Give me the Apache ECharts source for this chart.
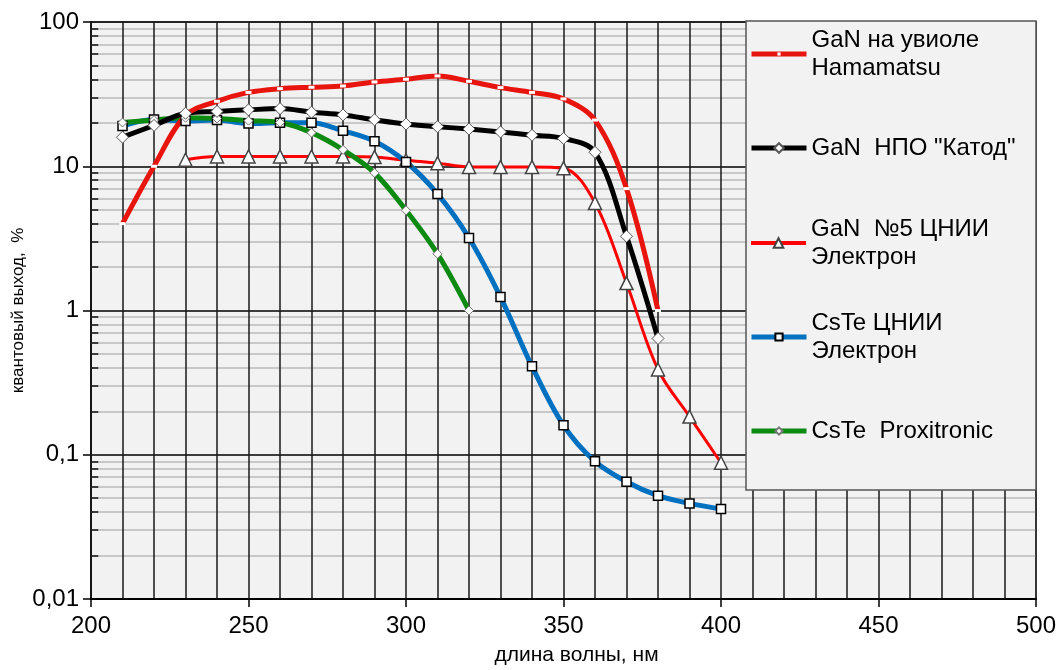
<!DOCTYPE html>
<html>
<head>
<meta charset="utf-8">
<script src="https://cdn.jsdelivr.net/npm/echarts@6/dist/echarts.min.js"></script>
<style>
  html, body { margin: 0; padding: 0; background: #fff; }
  #chart { width: 1061px; height: 670px; }
</style>
</head>
<body>
<div id="chart"></div>
<script>
// wavelength, nm
const wavelengths = [210, 220, 230, 240, 250, 260, 270, 280, 290, 300,
    310, 320, 330, 340, 350, 360, 370, 380, 390, 400];

// quantum yield, %
const ganHamamatsu = [4.0, 10.0, 22.5, 28.2, 32.5, 34.5, 35.3, 36.0, 38.4, 40.1,
    42.3, 38.8, 35.1, 32.5, 29.3, 20.9, 7.0, 1.0];                 // 210..380
const ganKatod = [15.9, 19.2, 23.3, 24.0, 24.6, 25.1, 23.7, 22.7, 21.0, 19.6,
    18.8, 18.1, 17.3, 16.4, 15.6, 12.5, 3.27, 0.64];               // 210..380
const ganNo5 = [11.1, 11.7, 11.7, 11.7, 11.7, 11.7, 11.6, 11.0, 10.5, 9.9,
    9.9, 9.9, 9.7, 5.57, 1.55, 0.39, 0.184, 0.088];                // 230..400
const csteCnii = [19.0, 21.1, 20.6, 20.9, 19.8, 20.0, 20.0, 17.6, 14.9, 10.7,
    6.43, 3.18, 1.24, 0.41, 0.160, 0.090, 0.065, 0.052, 0.046, 0.042]; // 210..400
const csteProxitronic = [20.1, 20.9, 21.7, 21.4, 20.7, 20.1, 17.1, 13.0, 9.0, 4.95,
    2.47, 1.0];                                                    // 210..320

const seriesNames = [
    'GaN на увиоле\nHamamatsu',
    'GaN  НПО "Катод"',
    'GaN  №5 ЦНИИ\nЭлектрон',
    'CsTe ЦНИИ\nЭлектрон',
    'CsTe  Proxitronic'
];

const yTicks = [0.01, 0.1, 1, 10, 100];
const yTickLabels = ['0,01', '0,1', '1', '10', '100'];
const decades = [0.01, 0.1, 1, 10];
const minorSteps = [2, 3, 4, 5, 6, 7, 8, 9];

const FONT = 'Liberation Sans, Arial, sans-serif';

function pairs(startNm, values) {
    const from = wavelengths.indexOf(startNm);
    return values.map((v, i) => [wavelengths[from + i], v]);
}

function yLabel(value) {
    let best = 0;
    yTicks.forEach((t, i) => {
        if (Math.abs(Math.log10(t) - Math.log10(value)) <
            Math.abs(Math.log10(yTicks[best]) - Math.log10(value)))
            best = i;
    });
    return yTickLabels[best];
}

// light grey log minor grid + short inner ticks on the y axis
let minorLines = [];
decades.forEach(d => {
    minorSteps.forEach(s => {
        minorLines.push({ yAxis: d * s });
        minorLines.push([
            { coord: [200, d * s], lineStyle: { color: '#111', width: 1.5 } },
            { coord: [202.3, d * s] }
        ]);
    });
});

const chart = echarts.init(document.getElementById('chart'));

function legendAt(name, iconY, twoLines, itemHeight, lineWidth) {
    return {
        data: [name],
        left: 749,
        top: iconY - (twoLines ? 42 : 14),
        orient: 'vertical',
        padding: 0,
        itemWidth: 55,
        itemHeight: itemHeight,
        itemGap: 0,
        selectedMode: false,
        z: 20,
        lineStyle: { width: lineWidth },
        textStyle: {
            fontFamily: FONT,
            fontSize: 24,
            lineHeight: 28,
            color: '#000',
            padding: twoLines ? [28, 0, 0, 0] : 0
        }
    };
}

chart.setOption({
    animation: false,
    backgroundColor: '#fff',
    textStyle: { fontFamily: FONT },
    grid: {
        left: 91, right: 25, top: 22, bottom: 71,
        outerBoundsMode: 'none',
        containLabel: false,
        show: true,
        backgroundColor: '#f2f2f2',
        borderColor: '#8c8c8c',
        borderWidth: 2
    },
    xAxis: {
        type: 'value',
        min: 200, max: 500, interval: 50,
        z: 1.5,
        name: 'длина волны, нм',
        nameLocation: 'middle',
        nameGap: 46,
        nameMoveOverlap: false,
        nameTextStyle: { fontSize: 21, color: '#000', padding: [0, 0, 0, 26] },
        axisLine: { lineStyle: { color: '#000', width: 2 } },
        axisTick: { show: true, length: 8, lineStyle: { color: '#000', width: 1.5 } },
        axisLabel: { fontSize: 24, color: '#000', margin: 15 },
        splitLine: { show: true, lineStyle: { color: '#1a1a1a', width: 1.5 } },
        minorTick: { show: false, splitNumber: 5 },
        minorSplitLine: { show: true, lineStyle: { color: '#1a1a1a', width: 1.5 } }
    },
    yAxis: {
        type: 'log',
        logBase: 10,
        min: 0.01, max: 100,
        name: 'квантовый выход,  %',
        nameLocation: 'middle',
        nameGap: 64,
        nameMoveOverlap: false,
        nameTextStyle: { fontSize: 17, color: '#000' },
        axisLine: { lineStyle: { color: '#111', width: 2 } },
        axisTick: { show: true, length: 8, lineStyle: { color: '#000', width: 1.5 } },
        axisLabel: { fontSize: 24, color: '#000', margin: 12, formatter: yLabel },
        splitLine: { show: true, lineStyle: { color: '#000', width: 1.5 } }
    },
    graphic: [{
        type: 'rect',
        z: 10,
        shape: { x: 746, y: 21, width: 290, height: 469 },
        style: { fill: '#f2f2f2', stroke: '#555', lineWidth: 1.5 }
    }],
    legend: [
        legendAt(seriesNames[0], 54, true, 4, 5),
        legendAt(seriesNames[1], 148, false, 12, 5),
        legendAt(seriesNames[2], 243, true, 12, 4),
        legendAt(seriesNames[3], 337, true, 9, 5),
        legendAt(seriesNames[4], 431, false, 9, 5)
    ],
    series: [
        {
            name: seriesNames[2],
            type: 'line',
            smooth: 0.35,
            data: pairs(230, ganNo5),
            symbol: 'triangle',
            symbolSize: 13,
            showAllSymbol: true,
            lineStyle: { color: '#ff0000', width: 3 },
            itemStyle: { color: '#fff', borderColor: '#444', borderWidth: 1.5 },
            markLine: {
                silent: true,
                z: 1,
                symbol: 'none',
                animation: false,
                label: { show: false },
                emphasis: { disabled: true },
                lineStyle: { color: '#c8c8c8', width: 2, type: 'solid' },
                data: minorLines
            }
        },
        {
            name: seriesNames[3],
            type: 'line',
            smooth: 0.35,
            data: pairs(210, csteCnii),
            symbol: 'rect',
            symbolSize: 9,
            showAllSymbol: true,
            lineStyle: { color: '#0070c0', width: 5 },
            itemStyle: { color: '#fff', borderColor: '#000', borderWidth: 1.5 }
        },
        {
            name: seriesNames[4],
            type: 'line',
            smooth: 0.35,
            data: pairs(210, csteProxitronic),
            symbol: 'diamond',
            symbolSize: 9,
            showAllSymbol: true,
            lineStyle: { color: '#0d8a12', width: 5 },
            itemStyle: { color: '#fff', borderColor: '#777', borderWidth: 1 }
        },
        {
            name: seriesNames[1],
            type: 'line',
            smooth: 0.35,
            data: pairs(210, ganKatod),
            symbol: 'diamond',
            symbolSize: 12,
            showAllSymbol: true,
            lineStyle: { color: '#000', width: 5 },
            itemStyle: { color: '#fff', borderColor: '#555', borderWidth: 1 }
        },
        {
            name: seriesNames[0],
            type: 'line',
            smooth: 0.35,
            data: pairs(210, ganHamamatsu),
            symbol: 'rect',
            symbolSize: [6, 3],
            showAllSymbol: true,
            lineStyle: { color: '#e8150e', width: 5 },
            itemStyle: { color: '#fff', borderWidth: 0 }
        }
    ]
});
</script>
</body>
</html>
